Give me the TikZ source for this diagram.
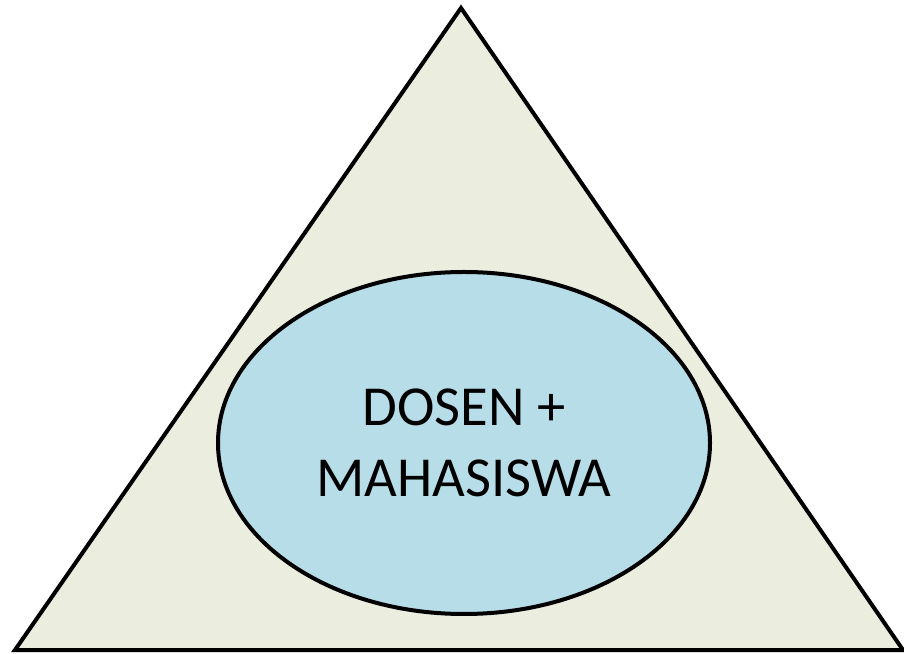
\documentclass[tikz,border=0pt]{standalone}
\usepackage{fontspec}
\setmainfont{Carlito}
\usepackage{tikz}
\usetikzlibrary{shapes.geometric,positioning}
\definecolor{cTri}{HTML}{EBEEDF}
\definecolor{cCore}{HTML}{B7DDE8}
\tikzset{
  tri/.style={draw=black,fill=cTri,line width=4pt,line join=miter},
  core/.style={ellipse,draw=black,fill=cCore,line width=4pt,inner sep=0pt,
    minimum width=492pt,minimum height=342pt,align=center,
    font=\fontsize{56.5}{71}\selectfont},
}
\begin{document}
\begin{tikzpicture}[x=1pt,y=1pt]
  \useasboundingbox (0,0) rectangle (904,653);
  \coordinate (top) at (461,645);
  \coordinate (bl) at (15,3);
  \coordinate (br) at (903,3);
  \draw[tri] (top) -- (bl) -- (br) -- cycle;
  % inner group
  \node[core] (team) at (464,210) {DOSEN +\\MAHASISWA};
\end{tikzpicture}
\end{document}
